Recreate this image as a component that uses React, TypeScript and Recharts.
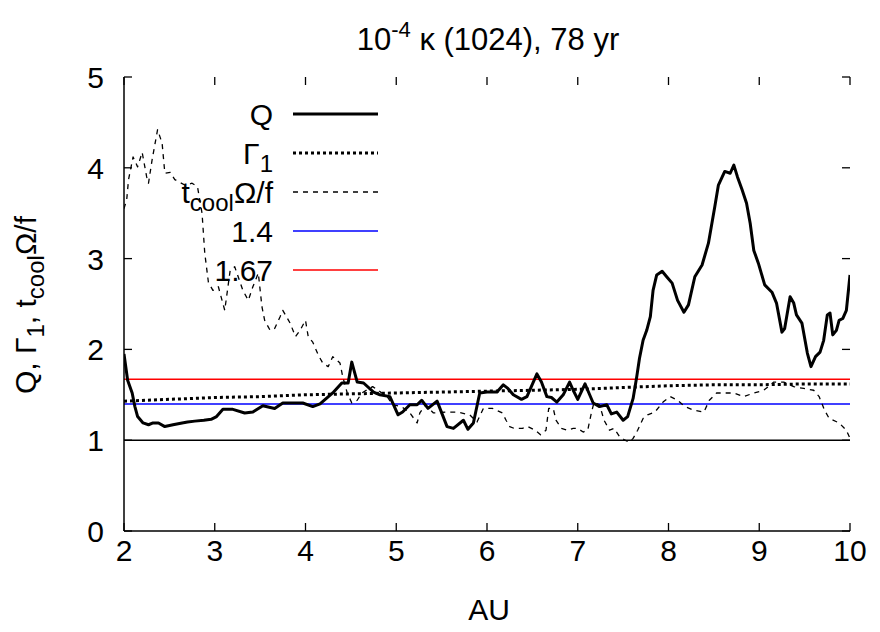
import React from 'react';
import { LineChart, Line, XAxis, YAxis, ReferenceLine, Legend } from 'recharts';

const FONT = '"Liberation Sans", Arial, Helvetica, sans-serif';

const W = 880;
const H = 632;
const PLOT_LEFT = 124;
const PLOT_TOP = 77;
const PLOT_RIGHT = 850;
const PLOT_BOTTOM = 531;

const xTicks = [2, 3, 4, 5, 6, 7, 8, 9, 10];
const yTicks = [0, 1, 2, 3, 4, 5];

// Q
const qAU = [2.00, 2.04, 2.09, 2.12, 2.15, 2.21, 2.27, 2.32, 2.38, 2.45, 2.54, 2.64, 2.70, 2.78, 2.88, 2.96, 3.02, 3.09, 3.20, 3.33, 3.42, 3.53, 3.66, 3.75, 3.97, 4.08, 4.16, 4.30, 4.40, 4.47, 4.51, 4.57, 4.64, 4.75, 4.82, 4.93, 5.02, 5.07, 5.15, 5.23, 5.28, 5.35, 5.45, 5.56, 5.63, 5.74, 5.79, 5.85, 5.92, 6.00, 6.11, 6.18, 6.23, 6.29, 6.38, 6.44, 6.55, 6.60, 6.66, 6.71, 6.77, 6.84, 6.91, 6.95, 7.00, 7.08, 7.11, 7.17, 7.24, 7.32, 7.37, 7.43, 7.50, 7.55, 7.61, 7.65, 7.68, 7.72, 7.76, 7.80, 7.83, 7.87, 7.93, 7.98, 8.04, 8.10, 8.17, 8.22, 8.29, 8.37, 8.44, 8.51, 8.55, 8.62, 8.68, 8.72, 8.76, 8.81, 8.86, 8.90, 8.94, 8.99, 9.06, 9.14, 9.19, 9.25, 9.28, 9.34, 9.38, 9.41, 9.47, 9.53, 9.57, 9.62, 9.67, 9.71, 9.75, 9.78, 9.81, 9.85, 9.88, 9.92, 9.96, 10.00];
const qVal = [1.95, 1.66, 1.52, 1.37, 1.26, 1.19, 1.17, 1.19, 1.19, 1.15, 1.17, 1.19, 1.20, 1.21, 1.22, 1.23, 1.26, 1.34, 1.34, 1.30, 1.31, 1.38, 1.35, 1.41, 1.41, 1.37, 1.40, 1.52, 1.63, 1.63, 1.86, 1.64, 1.63, 1.53, 1.50, 1.48, 1.28, 1.31, 1.39, 1.39, 1.44, 1.35, 1.43, 1.15, 1.13, 1.22, 1.12, 1.19, 1.52, 1.53, 1.53, 1.61, 1.57, 1.50, 1.45, 1.48, 1.73, 1.64, 1.48, 1.47, 1.42, 1.50, 1.64, 1.55, 1.45, 1.62, 1.55, 1.41, 1.37, 1.39, 1.29, 1.31, 1.22, 1.26, 1.46, 1.70, 1.90, 2.10, 2.21, 2.36, 2.65, 2.82, 2.86, 2.80, 2.73, 2.54, 2.41, 2.49, 2.80, 2.93, 3.17, 3.57, 3.81, 3.96, 3.94, 4.03, 3.90, 3.76, 3.61, 3.39, 3.09, 2.95, 2.71, 2.63, 2.51, 2.19, 2.23, 2.58, 2.51, 2.38, 2.29, 1.96, 1.81, 1.92, 1.97, 2.10, 2.38, 2.40, 2.16, 2.21, 2.32, 2.34, 2.43, 2.82];

// Gamma_1
const gammaAU = [2.0, 2.5, 3.0, 3.5, 4.0, 4.5, 5.0, 5.5, 6.0, 6.5, 7.0, 7.5, 8.0, 8.5, 9.0, 9.5, 10.0];
const gammaVal = [1.43, 1.45, 1.47, 1.48, 1.50, 1.51, 1.52, 1.53, 1.54, 1.55, 1.56, 1.58, 1.60, 1.61, 1.61, 1.62, 1.62];

// t_cool Omega / f
const tcoolAU = [2.00, 2.03, 2.05, 2.10, 2.15, 2.20, 2.25, 2.27, 2.31, 2.37, 2.42, 2.45, 2.51, 2.56, 2.67, 2.75, 2.81, 2.86, 2.89, 2.93, 2.98, 3.04, 3.11, 3.17, 3.22, 3.31, 3.37, 3.42, 3.48, 3.52, 3.55, 3.61, 3.66, 3.72, 3.75, 3.83, 3.89, 3.94, 4.00, 4.03, 4.08, 4.14, 4.19, 4.25, 4.30, 4.38, 4.41, 4.46, 4.51, 4.57, 4.62, 4.74, 4.90, 4.96, 5.06, 5.15, 5.23, 5.26, 5.32, 5.41, 5.56, 5.67, 5.81, 5.89, 5.96, 6.06, 6.17, 6.21, 6.25, 6.30, 6.39, 6.45, 6.53, 6.59, 6.65, 6.68, 6.73, 6.76, 6.82, 6.89, 6.95, 7.00, 7.06, 7.11, 7.15, 7.18, 7.24, 7.29, 7.35, 7.40, 7.46, 7.52, 7.57, 7.61, 7.66, 7.72, 7.77, 7.85, 7.94, 8.02, 8.10, 8.18, 8.28, 8.39, 8.45, 8.53, 8.61, 8.72, 8.83, 8.94, 9.05, 9.16, 9.27, 9.38, 9.49, 9.60, 9.66, 9.72, 9.77, 9.88, 9.96, 10.00];
const tcoolVal = [3.55, 3.65, 3.87, 4.12, 4.01, 4.17, 3.90, 3.83, 4.09, 4.42, 4.27, 3.94, 3.95, 3.87, 3.81, 3.83, 3.79, 3.50, 3.06, 2.74, 2.65, 2.69, 2.43, 2.87, 2.91, 2.65, 2.54, 2.69, 2.84, 2.47, 2.32, 2.21, 2.23, 2.36, 2.43, 2.29, 2.14, 2.21, 2.32, 2.14, 2.08, 1.94, 1.85, 1.81, 1.92, 1.85, 1.70, 1.52, 1.41, 1.44, 1.52, 1.59, 1.48, 1.39, 1.37, 1.30, 1.19, 1.30, 1.39, 1.30, 1.31, 1.31, 1.28, 1.20, 1.35, 1.35, 1.30, 1.22, 1.15, 1.13, 1.13, 1.15, 1.11, 1.06, 1.11, 1.35, 1.35, 1.22, 1.13, 1.11, 1.13, 1.13, 1.09, 1.11, 1.30, 1.42, 1.39, 1.22, 1.11, 1.13, 1.04, 1.00, 0.98, 1.02, 1.11, 1.24, 1.28, 1.31, 1.42, 1.48, 1.44, 1.37, 1.33, 1.31, 1.44, 1.52, 1.52, 1.52, 1.48, 1.52, 1.55, 1.64, 1.64, 1.59, 1.57, 1.55, 1.48, 1.33, 1.24, 1.19, 1.11, 1.02];

// constant reference levels
const levelAU = [2, 10];
const level14 = [1.4, 1.4];
const level167 = [1.67, 1.67];
const unityLevel = 1;

const zip = (xs: number[], ys: number[]) => xs.map((x, i) => ({ x, y: ys[i] }));

const qData = zip(qAU, qVal);
const gammaData = zip(gammaAU, gammaVal);
const tcoolData = zip(tcoolAU, tcoolVal);
const l14Data = zip(levelAU, level14);
const l167Data = zip(levelAU, level167);

const SERIES = [
  { key: 'Q', data: qData, stroke: '#000000', width: 3, dash: undefined as string | undefined },
  { key: 'G1', data: gammaData, stroke: '#000000', width: 3, dash: '3 3' },
  { key: 'tcool', data: tcoolData, stroke: '#000000', width: 1.3, dash: '5 5' },
  { key: 'l14', data: l14Data, stroke: '#0000ff', width: 1.5, dash: undefined },
  { key: 'l167', data: l167Data, stroke: '#ff0000', width: 1.5, dash: undefined },
];

const FS = 30;

const LegendLabel = ({ k, x, y }: { k: string; x: number; y: number }) => {
  const common = { x, y, textAnchor: 'end' as const, fontFamily: FONT, fontSize: FS, fill: '#000' };
  if (k === 'Q') return <text {...common}>Q</text>;
  if (k === 'G1')
    return (
      <text {...common}>
        Γ<tspan fontSize={FS * 0.8} dy={8}>1</tspan>
      </text>
    );
  if (k === 'tcool')
    return (
      <text {...common}>
        t<tspan fontSize={FS * 0.8} dy={8}>cool</tspan>
        <tspan dy={-8}>Ω/f</tspan>
      </text>
    );
  if (k === 'l14') return <text {...common}>1.4</text>;
  return <text {...common}>1.67</text>;
};

const renderLegend = () => {
  const rowY0 = 114;
  const step = 39;
  return (
    <svg width={W} height={H} style={{ position: 'absolute', left: 0, top: 0, pointerEvents: 'none' }}>
      {SERIES.map((s, i) => {
        const y = rowY0 + i * step;
        return (
          <g key={s.key}>
            <LegendLabel k={s.key} x={273} y={y + 11} />
            <line x1={293} x2={378} y1={y} y2={y} stroke={s.stroke} strokeWidth={s.width} strokeDasharray={s.dash} />
          </g>
        );
      })}
    </svg>
  );
};

const XTick = (props: any) => {
  const { payload } = props;
  const x = props.x;
  return (
    <g>
      <line x1={x} x2={x} y1={PLOT_BOTTOM} y2={PLOT_BOTTOM - 8} stroke="#000" strokeWidth={1.3} />
      <line x1={x} x2={x} y1={PLOT_TOP} y2={PLOT_TOP + 8} stroke="#000" strokeWidth={1.3} />
      <text x={x} y={PLOT_BOTTOM + 30} textAnchor="middle" fontFamily={FONT} fontSize={FS} fill="#000">
        {payload.value}
      </text>
    </g>
  );
};

const YTick = (props: any) => {
  const { payload } = props;
  const y = props.y;
  return (
    <g>
      <line x1={PLOT_LEFT} x2={PLOT_LEFT + 8} y1={y} y2={y} stroke="#000" strokeWidth={1.3} />
      <line x1={PLOT_RIGHT} x2={PLOT_RIGHT - 8} y1={y} y2={y} stroke="#000" strokeWidth={1.3} />
      <text x={PLOT_LEFT - 20} y={y + 11} textAnchor="end" fontFamily={FONT} fontSize={FS} fill="#000">
        {payload.value}
      </text>
    </g>
  );
};

export default function App() {
  return (
    <div style={{ position: 'absolute', left: 0, top: 0, width: W, height: H, background: '#fff' }}>
      <LineChart
        width={W}
        height={H}
        margin={{ top: PLOT_TOP, right: W - PLOT_RIGHT, bottom: 0, left: 0 }}
      >
        <XAxis
          xAxisId="b"
          type="number"
          dataKey="x"
          domain={[2, 10]}
          ticks={xTicks}
          allowDataOverflow
          height={H - PLOT_BOTTOM}
          axisLine={{ stroke: '#000', strokeWidth: 1.5 }}
          tickLine={false}
          tick={<XTick />}
          interval={0}
        />
        <XAxis
          xAxisId="t"
          orientation="top"
          type="number"
          dataKey="x"
          domain={[2, 10]}
          height={0}
          axisLine={{ stroke: '#000', strokeWidth: 1.5 }}
          tickLine={false}
          tick={false}
        />
        <YAxis
          yAxisId="l"
          type="number"
          domain={[0, 5]}
          ticks={yTicks}
          width={PLOT_LEFT}
          axisLine={{ stroke: '#000', strokeWidth: 1.5 }}
          tickLine={false}
          tick={<YTick />}
          interval={0}
        />
        <YAxis
          yAxisId="r"
          orientation="right"
          type="number"
          domain={[0, 5]}
          width={0}
          axisLine={{ stroke: '#000', strokeWidth: 1.5 }}
          tickLine={false}
          tick={false}
        />
        <ReferenceLine xAxisId="b" yAxisId="l" y={unityLevel} stroke="#000" strokeWidth={1.5} />
        {SERIES.slice().reverse().map((s) => (
          <Line
            key={s.key}
            xAxisId="b"
            yAxisId="l"
            data={s.data}
            dataKey="y"
            name={s.key}
            type="linear"
            stroke={s.stroke}
            strokeWidth={s.width}
            strokeDasharray={s.dash}
            dot={false}
            activeDot={false}
            isAnimationActive={false}
            strokeLinejoin="round"
          />
        ))}
        <Legend
          layout="horizontal"
          verticalAlign="middle"
          align="center"
          content={renderLegend}
          wrapperStyle={{ left: 0, top: 0, width: W, height: H, pointerEvents: 'none' }}
        />
      </LineChart>
      <svg width={W} height={H} style={{ position: 'absolute', left: 0, top: 0, pointerEvents: 'none' }}>
        <text x={488} y={50} textAnchor="middle" fontFamily={FONT} fontSize={31} fill="#000">
          10<tspan fontSize={22} dy={-13}>-4</tspan>
          <tspan dy={13}> κ (1024), 78 yr</tspan>
        </text>
        <text x={489} y={620} textAnchor="middle" fontFamily={FONT} fontSize={FS} fill="#000">
          AU
        </text>
        <text
          transform="translate(36,305) rotate(-90)"
          x={0}
          y={0}
          textAnchor="middle"
          fontFamily={FONT}
          fontSize={FS}
          fill="#000"
        >
          Q, Γ<tspan fontSize={FS * 0.8} dy={8}>1</tspan>
          <tspan dy={-8}>, t</tspan>
          <tspan fontSize={FS * 0.8} dy={8}>cool</tspan>
          <tspan dy={-8}>Ω/f</tspan>
        </text>
      </svg>
    </div>
  );
}
